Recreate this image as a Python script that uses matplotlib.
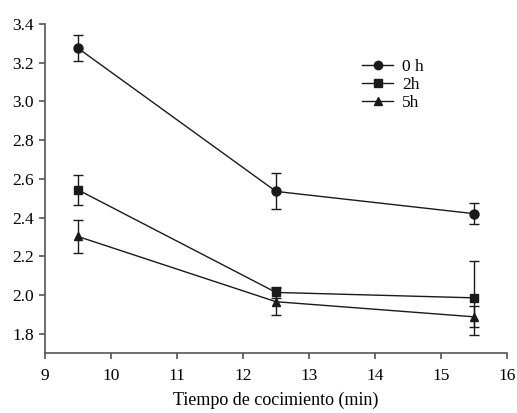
import matplotlib
matplotlib.use('Agg')
import matplotlib.pyplot as plt
from matplotlib.lines import Line2D

plt.rcParams['font.family'] = ['Liberation Serif', 'DejaVu Serif']

tiempo = [9.5, 12.5, 15.5]
labels = ['0 h', '2h', '5h']
markers = ['o', 's', '^']
msizes = [6.5, 5.8, 6.2]

y_0h = [3.275, 2.535, 2.42]
err_0h = [0.068, 0.093, 0.055]
y_2h = [2.543, 2.013, 1.985]
err_2h = [0.077, 0.03, 0.19]
y_5h = [2.302, 1.965, 1.887]
err_5h = [0.087, 0.07, 0.055]

series = [(y_0h, err_0h), (y_2h, err_2h), (y_5h, err_5h)]
col = '#1a1a1a'

fig = plt.figure(figsize=(5.17, 4.13), dpi=100)
# axes: left 45px, right ~507px, bottom 353px, top 24px
ax = fig.add_axes([45 / 517, 60 / 413, 462 / 517, 329 / 413])

handles = []
for (vals, errs), lab, m, ms in zip(series, labels, markers, msizes):
    ax.errorbar(tiempo, vals, yerr=errs, color=col, marker=m, markersize=ms,
                linewidth=1, elinewidth=1, capsize=3.5, capthick=1)
    handles.append(Line2D([], [], color=col, marker=m, markersize=ms - 0.5, linewidth=1, label=lab))

ax.set_xlim(9, 16)
ax.set_ylim(1.7, 3.4)
ax.set_xticks(range(9, 17))
ax.set_yticks([1.8, 2.0, 2.2, 2.4, 2.6, 2.8, 3.0, 3.2, 3.4])
ax.yaxis.set_major_formatter(matplotlib.ticker.FormatStrFormatter('%.1f'))

for s in ['top', 'right']:
    ax.spines[s].set_visible(False)
for s in ['left', 'bottom']:
    ax.spines[s].set_color('#555555')
    ax.spines[s].set_linewidth(1.2)
ax.tick_params(direction='out', length=4, width=1.2, color='#555555', labelsize=12.5, pad=4)
ax.tick_params(axis='x', pad=7)

ax.set_xlabel('Tiempo de cocimiento (min)', fontsize=13, labelpad=5)

ax.legend(handles=handles, loc='upper left', bbox_to_anchor=(0.686, 0.895), frameon=False,
          fontsize=12.5, handlelength=1.8, labelspacing=0.12, handletextpad=0.5,
          borderpad=0, borderaxespad=0)

fig.savefig('out.png', dpi=100)
